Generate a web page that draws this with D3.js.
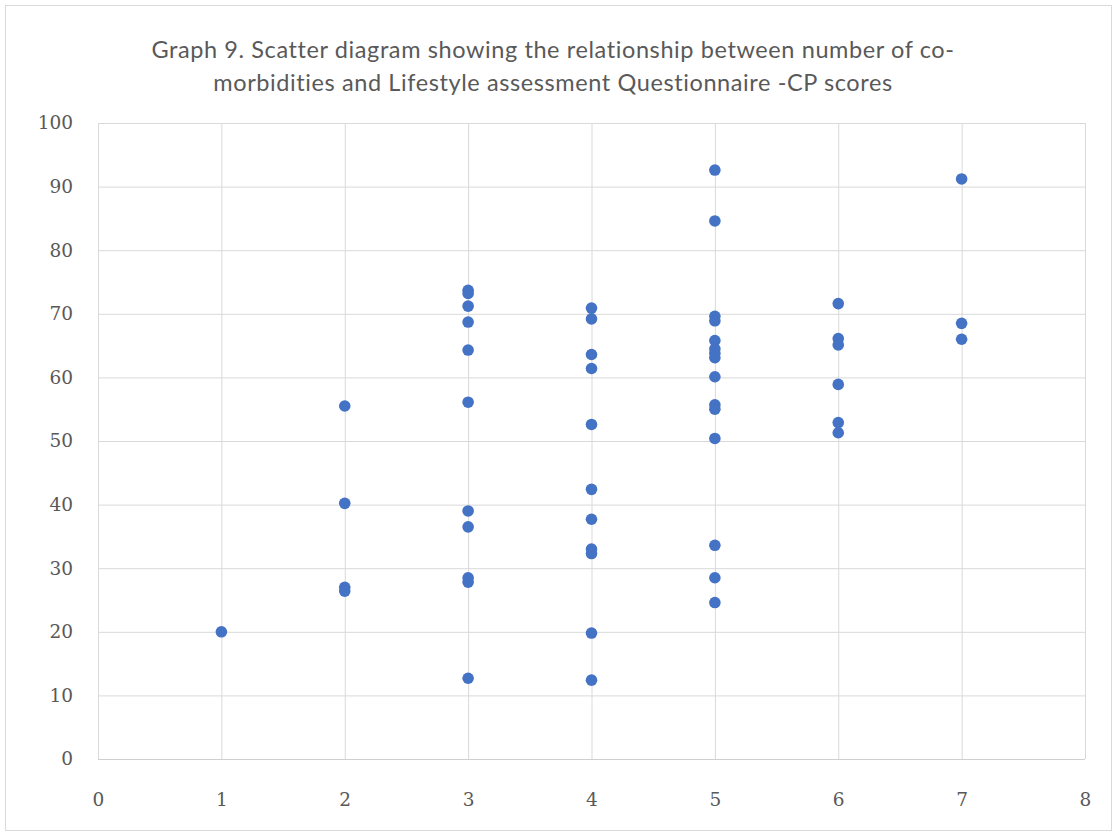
<!DOCTYPE html>
<html><head><meta charset="utf-8">
<script src="https://cdn.jsdelivr.net/npm/d3@7"></script>
<style>body{margin:0;background:#fff;}svg{display:block;}</style>
</head><body>
<script>
const titleLines = ["Graph 9. Scatter diagram showing the relationship between number of co-", "morbidities and Lifestyle assessment Questionnaire -CP scores"];
const comorbidities = [1,
  2,2,2,2,
  3,3,3,3,3,3,3,3,3,3,3,
  4,4,4,4,4,4,4,4,4,4,4,
  5,5,5,5,5,5,5,5,5,5,5,5,5,5,5,
  6,6,6,6,6,6,
  7,7,7];
const scores = [20.0,
  55.5,40.2,27.0,26.4,
  73.7,73.2,71.2,68.7,64.3,56.1,39.0,36.5,28.5,27.8,12.7,
  70.9,69.2,63.6,61.4,52.6,42.4,37.7,33.0,32.3,19.8,12.4,
  92.6,84.6,69.6,68.9,65.8,64.5,63.8,63.1,60.1,55.7,55.0,50.4,33.6,28.5,24.6,
  71.6,66.1,65.1,58.9,52.9,51.3,
  91.2,68.5,66.0];
const xTicks = [0,1,2,3,4,5,6,7,8];
const yTicks = [0,10,20,30,40,50,60,70,80,90,100];

const W = 1117, H = 836;
const m = {left: 98, right: 1085, top: 123, bottom: 759};
const svg = d3.select("body").append("svg").attr("width", W).attr("height", H);
svg.append("rect").attr("x",5.5).attr("y",5.5).attr("width",W-11).attr("height",H-11)
  .attr("fill","#fff").attr("stroke","#d9d9d9");

const x = d3.scaleLinear().domain([0,8]).range([m.left, m.right]);
const y = d3.scaleLinear().domain([0,100]).range([m.bottom, m.top]);

const gx = svg.append("g").attr("transform", `translate(0,${m.bottom})`)
  .call(d3.axisBottom(x).tickValues(xTicks).tickSize(-(m.bottom-m.top)).tickPadding(34).tickFormat(d3.format("d")));
const gy = svg.append("g").attr("transform", `translate(${m.left},0)`)
  .call(d3.axisLeft(y).tickValues(yTicks).tickSize(-(m.right-m.left)).tickPadding(25).tickFormat(d3.format("d")));
[gx, gy].forEach(g => {
  g.select(".domain").remove();
  g.selectAll(".tick line").attr("stroke","#d9d9d9").attr("stroke-width",1);
  g.selectAll(".tick text").attr("fill","#595959").style("font-family","'DejaVu Serif', serif").style("font-size","18.5px");
});
gy.selectAll(".tick").filter(d => d === 0).select("line").attr("stroke","#cfcfcf");

svg.append("g").selectAll("circle").data(scores).join("circle")
  .attr("cx", (d,i) => x(comorbidities[i]))
  .attr("cy", d => y(d))
  .attr("r", 5.8)
  .attr("fill", "#4472c4");

svg.append("g").selectAll("text").data(titleLines).join("text")
  .attr("x", 553)
  .attr("y", (d,i) => 58 + i*33)
  .attr("text-anchor","middle")
  .attr("fill","#595959")
  .style("font-family","Lato, 'Open Sans', sans-serif")
  .style("font-size","23.5px")
  .style("letter-spacing","0.6px")
  .text(d => d);
</script>
</body></html>
